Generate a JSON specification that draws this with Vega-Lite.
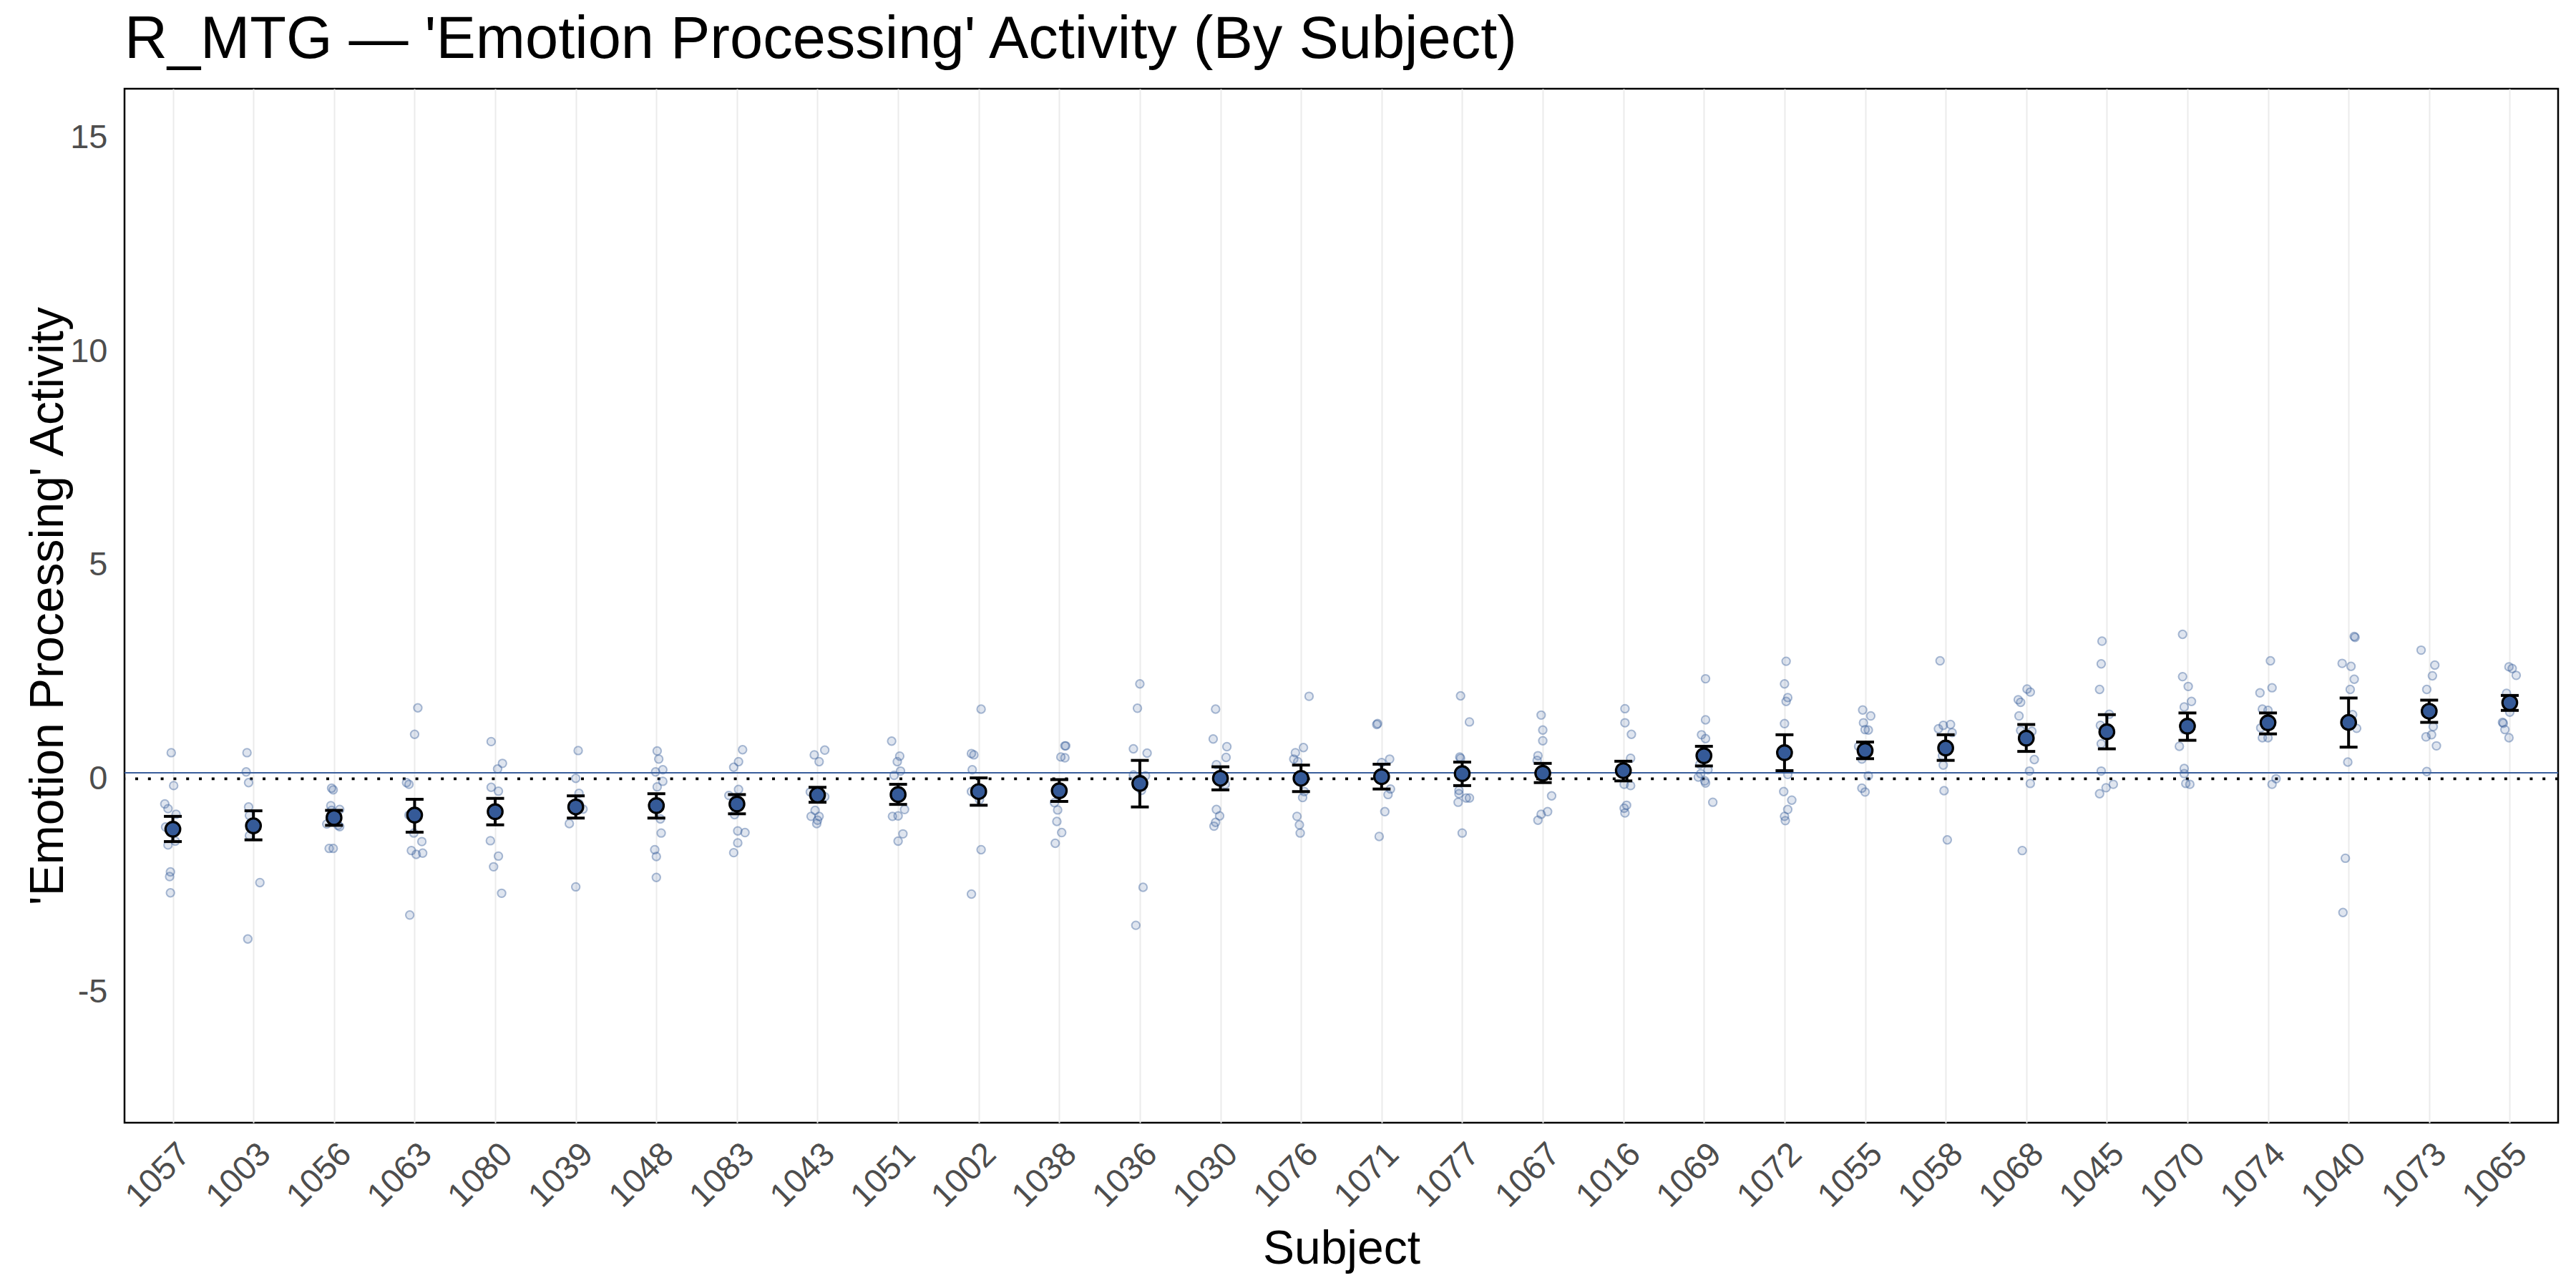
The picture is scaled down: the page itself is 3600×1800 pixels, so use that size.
{
"$schema": "https://vega.github.io/schema/vega-lite/v6.json",
"width": 3401, "height": 1445,
"autosize": {"type": "none"},
"padding": {"left": 174, "top": 124, "right": 25, "bottom": 231},
"background": "white",
"title": {"text": "R_MTG — 'Emotion Processing' Activity (By Subject)", "anchor": "start", "frame": "group", "font": "Liberation Sans", "fontSize": 83, "fontWeight": "normal", "color": "black", "baseline": "alphabetic", "offset": 41, "dy": 81},
"config": {
 "font": "Liberation Sans",
 "view": {"stroke": "black", "strokeWidth": 2.5},
 "axis": {"domain": false, "ticks": false, "labelFont": "Liberation Sans", "labelFontSize": 47, "labelColor": "#4d4d4d", "titleFont": "Liberation Sans", "titleFontSize": 66, "titleFontWeight": "normal", "titleColor": "black"},
 "axisX": {"grid": true, "gridColor": "#ebebeb", "gridWidth": 2, "labelAngle": -45, "labelAlign": "right", "labelBaseline": "top", "labelPadding": 20, "titlePadding": 18},
 "axisY": {"grid": false, "labelPadding": 24, "titlePadding": -4}
},
"datasets": {
"summ": [
{"s":"1057","m":-1.18,"lo":-1.47,"hi":-0.88},{"s":"1003","m":-1.10,"lo":-1.43,"hi":-0.75},{"s":"1056","m":-0.91,"lo":-1.09,"hi":-0.74},{"s":"1063","m":-0.85,"lo":-1.25,"hi":-0.48},{"s":"1080","m":-0.77,"lo":-1.08,"hi":-0.46},{"s":"1039","m":-0.66,"lo":-0.92,"hi":-0.40},{"s":"1048","m":-0.63,"lo":-0.92,"hi":-0.35},{"s":"1083","m":-0.59,"lo":-0.82,"hi":-0.37},{"s":"1043","m":-0.38,"lo":-0.55,"hi":-0.20},{"s":"1051","m":-0.37,"lo":-0.60,"hi":-0.13},{"s":"1002","m":-0.30,"lo":-0.62,"hi":0.02},{"s":"1038","m":-0.28,"lo":-0.53,"hi":-0.02},{"s":"1036","m":-0.11,"lo":-0.66,"hi":0.43},{"s":"1030","m":0.01,"lo":-0.26,"hi":0.28},{"s":"1076","m":0.01,"lo":-0.30,"hi":0.32},{"s":"1071","m":0.05,"lo":-0.24,"hi":0.34},{"s":"1077","m":0.12,"lo":-0.16,"hi":0.39},{"s":"1067","m":0.13,"lo":-0.09,"hi":0.36},{"s":"1016","m":0.19,"lo":-0.05,"hi":0.41},{"s":"1069","m":0.54,"lo":0.30,"hi":0.76},{"s":"1072","m":0.61,"lo":0.19,"hi":1.03},{"s":"1055","m":0.66,"lo":0.47,"hi":0.86},{"s":"1058","m":0.72,"lo":0.43,"hi":1.03},{"s":"1068","m":0.95,"lo":0.64,"hi":1.27},{"s":"1045","m":1.10,"lo":0.70,"hi":1.50},{"s":"1070","m":1.23,"lo":0.90,"hi":1.54},{"s":"1074","m":1.31,"lo":1.05,"hi":1.54},{"s":"1040","m":1.32,"lo":0.74,"hi":1.89},{"s":"1073","m":1.58,"lo":1.32,"hi":1.84},{"s":"1065","m":1.78,"lo":1.60,"hi":1.95}
],
"pts": [
{"s":"1057","v":0.61,"dx":-0.02},{"s":"1057","v":-0.16,"dx":0.01},{"s":"1057","v":-0.59,"dx":-0.10},{"s":"1057","v":-0.70,"dx":-0.06},{"s":"1057","v":-0.83,"dx":0.04},{"s":"1057","v":-1.13,"dx":-0.09},{"s":"1057","v":-1.46,"dx":0.03},{"s":"1057","v":-1.55,"dx":-0.06},{"s":"1057","v":-2.18,"dx":-0.03},{"s":"1057","v":-2.29,"dx":-0.04},{"s":"1057","v":-2.67,"dx":-0.03},
{"s":"1003","v":0.61,"dx":-0.08},{"s":"1003","v":0.16,"dx":-0.09},{"s":"1003","v":-0.09,"dx":-0.06},{"s":"1003","v":-0.66,"dx":-0.06},{"s":"1003","v":-0.86,"dx":-0.05},{"s":"1003","v":-1.11,"dx":-0.01},{"s":"1003","v":-1.33,"dx":-0.05},{"s":"1003","v":-2.43,"dx":0.08},{"s":"1003","v":-3.75,"dx":-0.07},
{"s":"1056","v":-0.22,"dx":-0.03},{"s":"1056","v":-0.26,"dx":-0.01},{"s":"1056","v":-0.63,"dx":-0.04},{"s":"1056","v":-0.72,"dx":0.07},{"s":"1056","v":-0.74,"dx":-0.03},{"s":"1056","v":-1.06,"dx":-0.09},{"s":"1056","v":-1.09,"dx":0.05},{"s":"1056","v":-1.12,"dx":0.07},{"s":"1056","v":-1.63,"dx":-0.06},{"s":"1056","v":-1.63,"dx":-0.01},
{"s":"1063","v":1.66,"dx":0.04},{"s":"1063","v":1.04,"dx":0.0},{"s":"1063","v":-0.09,"dx":-0.10},{"s":"1063","v":-0.13,"dx":-0.07},{"s":"1063","v":-0.85,"dx":-0.07},{"s":"1063","v":-1.27,"dx":-0.01},{"s":"1063","v":-1.47,"dx":0.09},{"s":"1063","v":-1.68,"dx":-0.04},{"s":"1063","v":-1.77,"dx":0.02},{"s":"1063","v":-1.74,"dx":0.10},{"s":"1063","v":-3.19,"dx":-0.06},
{"s":"1080","v":0.87,"dx":-0.05},{"s":"1080","v":0.36,"dx":0.09},{"s":"1080","v":0.23,"dx":0.03},{"s":"1080","v":-0.20,"dx":-0.05},{"s":"1080","v":-0.29,"dx":0.04},{"s":"1080","v":-1.45,"dx":-0.06},{"s":"1080","v":-1.81,"dx":0.04},{"s":"1080","v":-2.06,"dx":-0.02},{"s":"1080","v":-2.68,"dx":0.08},
{"s":"1039","v":0.66,"dx":0.03},{"s":"1039","v":0.01,"dx":0.0},{"s":"1039","v":-0.34,"dx":0.04},{"s":"1039","v":-0.58,"dx":0.04},{"s":"1039","v":-0.71,"dx":0.09},{"s":"1039","v":-1.05,"dx":-0.08},{"s":"1039","v":-2.53,"dx":0.0},
{"s":"1048","v":0.65,"dx":0.01},{"s":"1048","v":0.46,"dx":0.03},{"s":"1048","v":0.21,"dx":0.08},{"s":"1048","v":0.16,"dx":-0.01},{"s":"1048","v":-0.06,"dx":0.08},{"s":"1048","v":-0.19,"dx":0.01},{"s":"1048","v":-0.94,"dx":0.05},{"s":"1048","v":-1.27,"dx":0.06},{"s":"1048","v":-1.66,"dx":-0.02},{"s":"1048","v":-1.82,"dx":0.0},{"s":"1048","v":-2.31,"dx":0.0},
{"s":"1083","v":0.68,"dx":0.07},{"s":"1083","v":0.40,"dx":0.02},{"s":"1083","v":0.27,"dx":-0.04},{"s":"1083","v":-0.25,"dx":0.02},{"s":"1083","v":-0.39,"dx":-0.10},{"s":"1083","v":-0.84,"dx":-0.03},{"s":"1083","v":-1.22,"dx":0.01},{"s":"1083","v":-1.26,"dx":0.10},{"s":"1083","v":-1.50,"dx":0.01},{"s":"1083","v":-1.73,"dx":-0.04},
{"s":"1043","v":0.67,"dx":0.09},{"s":"1043","v":0.56,"dx":-0.04},{"s":"1043","v":0.40,"dx":0.02},{"s":"1043","v":-0.31,"dx":-0.09},{"s":"1043","v":-0.42,"dx":0.09},{"s":"1043","v":-0.74,"dx":-0.03},{"s":"1043","v":-0.88,"dx":-0.08},{"s":"1043","v":-0.88,"dx":0.02},{"s":"1043","v":-0.97,"dx":0.0},{"s":"1043","v":-1.05,"dx":-0.01},
{"s":"1051","v":0.88,"dx":-0.08},{"s":"1051","v":0.53,"dx":0.02},{"s":"1051","v":0.40,"dx":-0.01},{"s":"1051","v":0.18,"dx":0.03},{"s":"1051","v":0.08,"dx":-0.05},{"s":"1051","v":-0.72,"dx":0.08},{"s":"1051","v":-0.88,"dx":-0.07},{"s":"1051","v":-0.87,"dx":0.0},{"s":"1051","v":-1.29,"dx":0.06},{"s":"1051","v":-1.46,"dx":0.0},
{"s":"1002","v":1.63,"dx":0.03},{"s":"1002","v":0.59,"dx":-0.09},{"s":"1002","v":0.56,"dx":-0.06},{"s":"1002","v":0.21,"dx":-0.08},{"s":"1002","v":-0.30,"dx":-0.09},{"s":"1002","v":-0.49,"dx":0.01},{"s":"1002","v":-1.66,"dx":0.03},{"s":"1002","v":-2.70,"dx":-0.09},
{"s":"1038","v":0.77,"dx":0.07},{"s":"1038","v":0.77,"dx":0.08},{"s":"1038","v":0.51,"dx":0.02},{"s":"1038","v":0.49,"dx":0.07},{"s":"1038","v":-0.56,"dx":-0.06},{"s":"1038","v":-0.73,"dx":-0.02},{"s":"1038","v":-1.00,"dx":-0.03},{"s":"1038","v":-1.26,"dx":0.03},{"s":"1038","v":-1.51,"dx":-0.05},
{"s":"1036","v":2.22,"dx":0.0},{"s":"1036","v":1.65,"dx":-0.03},{"s":"1036","v":0.70,"dx":-0.08},{"s":"1036","v":0.60,"dx":0.09},{"s":"1036","v":0.09,"dx":-0.08},{"s":"1036","v":0.07,"dx":0.07},{"s":"1036","v":-0.27,"dx":0.02},{"s":"1036","v":-2.54,"dx":0.04},{"s":"1036","v":-3.43,"dx":-0.05},
{"s":"1030","v":1.63,"dx":-0.06},{"s":"1030","v":0.93,"dx":-0.09},{"s":"1030","v":0.75,"dx":0.08},{"s":"1030","v":0.50,"dx":0.07},{"s":"1030","v":0.33,"dx":-0.05},{"s":"1030","v":-0.13,"dx":0.06},{"s":"1030","v":-0.72,"dx":-0.05},{"s":"1030","v":-0.87,"dx":-0.01},{"s":"1030","v":-1.02,"dx":-0.06},{"s":"1030","v":-1.11,"dx":-0.08},
{"s":"1076","v":1.93,"dx":0.10},{"s":"1076","v":0.73,"dx":0.03},{"s":"1076","v":0.61,"dx":-0.07},{"s":"1076","v":0.46,"dx":-0.09},{"s":"1076","v":0.40,"dx":-0.04},{"s":"1076","v":-0.30,"dx":0.04},{"s":"1076","v":-0.44,"dx":0.02},{"s":"1076","v":-0.88,"dx":-0.05},{"s":"1076","v":-1.08,"dx":-0.02},{"s":"1076","v":-1.27,"dx":-0.01},
{"s":"1071","v":1.29,"dx":-0.05},{"s":"1071","v":1.27,"dx":-0.06},{"s":"1071","v":0.46,"dx":0.10},{"s":"1071","v":0.38,"dx":0.0},{"s":"1071","v":-0.24,"dx":0.11},{"s":"1071","v":-0.37,"dx":0.08},{"s":"1071","v":-0.77,"dx":0.04},{"s":"1071","v":-1.35,"dx":-0.03},
{"s":"1077","v":1.94,"dx":-0.02},{"s":"1077","v":1.33,"dx":0.09},{"s":"1077","v":0.51,"dx":-0.03},{"s":"1077","v":0.48,"dx":-0.02},{"s":"1077","v":-0.27,"dx":-0.04},{"s":"1077","v":-0.35,"dx":-0.04},{"s":"1077","v":-0.45,"dx":0.05},{"s":"1077","v":-0.45,"dx":0.09},{"s":"1077","v":-0.55,"dx":-0.05},{"s":"1077","v":-1.27,"dx":0.0},
{"s":"1067","v":1.49,"dx":-0.02},{"s":"1067","v":1.14,"dx":0.0},{"s":"1067","v":0.89,"dx":0.0},{"s":"1067","v":0.54,"dx":-0.06},{"s":"1067","v":0.43,"dx":-0.07},{"s":"1067","v":-0.40,"dx":0.11},{"s":"1067","v":-0.77,"dx":0.06},{"s":"1067","v":-0.83,"dx":-0.02},{"s":"1067","v":-0.97,"dx":-0.06},
{"s":"1016","v":1.64,"dx":0.02},{"s":"1016","v":1.31,"dx":0.02},{"s":"1016","v":1.04,"dx":0.10},{"s":"1016","v":0.48,"dx":0.09},{"s":"1016","v":-0.13,"dx":0.01},{"s":"1016","v":-0.16,"dx":0.09},{"s":"1016","v":-0.62,"dx":0.04},{"s":"1016","v":-0.69,"dx":0.01},{"s":"1016","v":-0.80,"dx":0.02},
{"s":"1069","v":2.34,"dx":0.02},{"s":"1069","v":1.38,"dx":0.02},{"s":"1069","v":1.03,"dx":-0.03},{"s":"1069","v":0.94,"dx":0.02},{"s":"1069","v":0.34,"dx":-0.05},{"s":"1069","v":0.21,"dx":0.05},{"s":"1069","v":0.12,"dx":-0.04},{"s":"1069","v":0.04,"dx":-0.07},{"s":"1069","v":-0.05,"dx":0.01},{"s":"1069","v":-0.10,"dx":0.02},{"s":"1069","v":-0.55,"dx":0.11},
{"s":"1072","v":2.75,"dx":0.02},{"s":"1072","v":2.22,"dx":0.0},{"s":"1072","v":1.90,"dx":0.04},{"s":"1072","v":1.81,"dx":0.02},{"s":"1072","v":1.29,"dx":0.0},{"s":"1072","v":0.10,"dx":0.04},{"s":"1072","v":-0.30,"dx":-0.01},{"s":"1072","v":-0.50,"dx":0.09},{"s":"1072","v":-0.72,"dx":0.04},{"s":"1072","v":-0.88,"dx":0.0},{"s":"1072","v":-0.98,"dx":0.01},
{"s":"1055","v":1.61,"dx":-0.03},{"s":"1055","v":1.47,"dx":0.07},{"s":"1055","v":1.31,"dx":-0.02},{"s":"1055","v":1.15,"dx":0.0},{"s":"1055","v":1.14,"dx":0.04},{"s":"1055","v":0.76,"dx":-0.08},{"s":"1055","v":0.46,"dx":-0.04},{"s":"1055","v":0.07,"dx":0.04},{"s":"1055","v":-0.22,"dx":-0.04},{"s":"1055","v":-0.31,"dx":0.0},
{"s":"1058","v":2.76,"dx":-0.07},{"s":"1058","v":1.25,"dx":-0.03},{"s":"1058","v":1.27,"dx":0.06},{"s":"1058","v":1.17,"dx":-0.09},{"s":"1058","v":1.08,"dx":0.08},{"s":"1058","v":0.54,"dx":-0.04},{"s":"1058","v":0.32,"dx":-0.03},{"s":"1058","v":-0.28,"dx":-0.02},{"s":"1058","v":-1.43,"dx":0.02},
{"s":"1068","v":2.10,"dx":0.01},{"s":"1068","v":2.03,"dx":0.05},{"s":"1068","v":1.85,"dx":-0.10},{"s":"1068","v":1.79,"dx":-0.07},{"s":"1068","v":1.47,"dx":-0.09},{"s":"1068","v":1.13,"dx":-0.07},{"s":"1068","v":1.11,"dx":0.07},{"s":"1068","v":0.45,"dx":0.10},{"s":"1068","v":0.18,"dx":0.04},{"s":"1068","v":-0.11,"dx":0.05},{"s":"1068","v":-1.68,"dx":-0.05},
{"s":"1045","v":3.22,"dx":-0.06},{"s":"1045","v":2.69,"dx":-0.07},{"s":"1045","v":2.09,"dx":-0.09},{"s":"1045","v":1.51,"dx":0.03},{"s":"1045","v":1.25,"dx":-0.08},{"s":"1045","v":0.82,"dx":-0.07},{"s":"1045","v":0.18,"dx":-0.07},{"s":"1045","v":-0.13,"dx":0.08},{"s":"1045","v":-0.21,"dx":-0.01},{"s":"1045","v":-0.35,"dx":-0.09},
{"s":"1070","v":3.38,"dx":-0.06},{"s":"1070","v":2.39,"dx":-0.06},{"s":"1070","v":2.16,"dx":0.01},{"s":"1070","v":1.81,"dx":0.05},{"s":"1070","v":1.68,"dx":-0.04},{"s":"1070","v":1.15,"dx":-0.04},{"s":"1070","v":0.76,"dx":-0.10},{"s":"1070","v":0.24,"dx":-0.04},{"s":"1070","v":0.12,"dx":-0.04},{"s":"1070","v":-0.11,"dx":-0.02},{"s":"1070","v":-0.13,"dx":0.03},
{"s":"1074","v":2.76,"dx":0.03},{"s":"1074","v":2.13,"dx":0.05},{"s":"1074","v":2.01,"dx":-0.10},{"s":"1074","v":1.63,"dx":-0.07},{"s":"1074","v":1.60,"dx":0.0},{"s":"1074","v":1.19,"dx":-0.09},{"s":"1074","v":0.96,"dx":-0.07},{"s":"1074","v":0.96,"dx":0.0},{"s":"1074","v":0.00,"dx":0.10},{"s":"1074","v":-0.13,"dx":0.05},
{"s":"1040","v":3.33,"dx":0.07},{"s":"1040","v":3.31,"dx":0.08},{"s":"1040","v":2.70,"dx":-0.08},{"s":"1040","v":2.63,"dx":0.03},{"s":"1040","v":2.33,"dx":0.07},{"s":"1040","v":2.09,"dx":0.02},{"s":"1040","v":1.50,"dx":0.05},{"s":"1040","v":1.18,"dx":0.10},{"s":"1040","v":0.39,"dx":-0.01},{"s":"1040","v":-1.86,"dx":-0.04},{"s":"1040","v":-3.13,"dx":-0.07},
{"s":"1073","v":3.01,"dx":-0.10},{"s":"1073","v":2.66,"dx":0.07},{"s":"1073","v":2.41,"dx":0.04},{"s":"1073","v":2.09,"dx":-0.03},{"s":"1073","v":1.22,"dx":0.05},{"s":"1073","v":1.03,"dx":0.03},{"s":"1073","v":0.98,"dx":-0.04},{"s":"1073","v":0.77,"dx":0.09},{"s":"1073","v":0.17,"dx":-0.03},
{"s":"1065","v":2.62,"dx":-0.01},{"s":"1065","v":2.58,"dx":0.03},{"s":"1065","v":2.42,"dx":0.08},{"s":"1065","v":2.00,"dx":-0.04},{"s":"1065","v":1.56,"dx":0.0},{"s":"1065","v":1.32,"dx":-0.09},{"s":"1065","v":1.30,"dx":-0.08},{"s":"1065","v":1.15,"dx":-0.06},{"s":"1065","v":0.96,"dx":-0.01}
]
},
"layer": [
{"data": {"values": [{"v": 0.14}]}, "mark": {"type": "rule", "color": "#3a5f9c", "strokeWidth": 2},
 "encoding": {"y": {"field": "v", "type": "quantitative", "title": "'Emotion Processing' Activity"}}},
{"data": {"values": [{"v": 0}]}, "mark": {"type": "rule", "color": "black", "strokeWidth": 3.8, "strokeDash": [4, 13.8]},
 "encoding": {"y": {"field": "v", "type": "quantitative", "title": "'Emotion Processing' Activity"}}},
{"data": {"name": "pts"}, "mark": {"type": "point", "shape": "circle", "filled": false, "fill": "#3a5f9c", "fillOpacity": 0.16, "stroke": "#3a5f9c", "strokeOpacity": 0.42, "strokeWidth": 2, "size": 130},
 "encoding": {
  "x": {"field": "s", "type": "nominal", "title": "Subject",
        "scale": {"type": "point", "padding": 0.6, "domain": ["1057","1003","1056","1063","1080","1039","1048","1083","1043","1051","1002","1038","1036","1030","1076","1071","1077","1067","1016","1069","1072","1055","1058","1068","1045","1070","1074","1040","1073","1065"]}},
  "xOffset": {"field": "dx", "type": "quantitative", "scale": {"domain": [-0.5, 0.5], "range": [-56.3, 56.3]}},
  "y": {"field": "v", "type": "quantitative", "title": "'Emotion Processing' Activity",
        "scale": {"domain": [-8.05, 16.15], "nice": false, "zero": false},
        "axis": {"values": [-5, 0, 5, 10, 15], "labelExpr": "'' + datum.value"}}
 }},
{"data": {"name": "summ"}, "mark": {"type": "rule", "color": "black", "strokeWidth": 4},
 "encoding": {"x": {"field": "s", "type": "nominal", "title": "Subject"}, "y": {"field": "lo", "type": "quantitative", "title": "'Emotion Processing' Activity"}, "y2": {"field": "hi"}}},
{"data": {"name": "summ"}, "mark": {"type": "tick", "color": "black", "size": 25, "thickness": 4, "opacity": 1},
 "encoding": {"x": {"field": "s", "type": "nominal", "title": "Subject"}, "y": {"field": "lo", "type": "quantitative", "title": "'Emotion Processing' Activity"}}},
{"data": {"name": "summ"}, "mark": {"type": "tick", "color": "black", "size": 25, "thickness": 4, "opacity": 1},
 "encoding": {"x": {"field": "s", "type": "nominal", "title": "Subject"}, "y": {"field": "hi", "type": "quantitative", "title": "'Emotion Processing' Activity"}}},
{"data": {"name": "summ"}, "mark": {"type": "point", "shape": "circle", "filled": true, "fill": "#355a98", "stroke": "black", "strokeWidth": 3.2, "size": 420, "opacity": 1},
 "encoding": {"x": {"field": "s", "type": "nominal", "title": "Subject"}, "y": {"field": "m", "type": "quantitative", "title": "'Emotion Processing' Activity"}}}
]
}
